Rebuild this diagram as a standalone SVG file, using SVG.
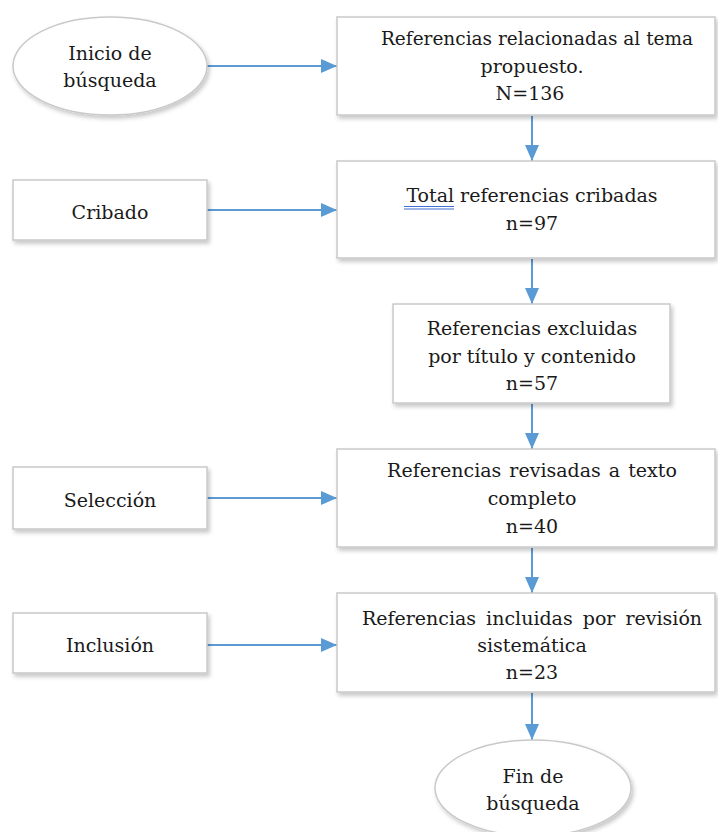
<svg xmlns="http://www.w3.org/2000/svg" width="718" height="832" viewBox="0 0 718 832">
  <defs>
    <style>
      .shape { fill: #ffffff; stroke: #c9c9c9; stroke-width: 1.5; filter: url(#shadow); }
      .label { font-family: "DejaVu Serif", "Liberation Serif", serif; font-size: 19px; fill: #1a1a1a; text-anchor: middle; }
      .conn { stroke: #5b9bd5; stroke-width: 2; fill: none; marker-end: url(#arrow); }
      .squiggle { stroke: #3f6fd0; stroke-width: 1.2; }
    </style>
    <filter id="shadow" x="-10%" y="-10%" width="125%" height="130%">
      <feDropShadow dx="2" dy="3" stdDeviation="2" flood-color="#000000" flood-opacity="0.22"/>
    </filter>
    <marker id="arrow" viewBox="0 0 16 14" refX="16" refY="7" markerWidth="16" markerHeight="14" markerUnits="userSpaceOnUse" orient="auto">
      <path d="M0,0 L16,7 L0,14 z" fill="#5b9bd5"/>
    </marker>
  </defs>
  <rect x="0" y="0" width="718" height="832" fill="#ffffff"/>

  <g id="connectors">
    <line class="conn" x1="207" y1="66" x2="337" y2="66"/>
    <line class="conn" x1="207" y1="210" x2="337" y2="210"/>
    <line class="conn" x1="207" y1="498" x2="337" y2="498"/>
    <line class="conn" x1="207" y1="645" x2="337" y2="645"/>
    <line class="conn" x1="532" y1="116" x2="532" y2="161"/>
    <line class="conn" x1="532" y1="259" x2="532" y2="304"/>
    <line class="conn" x1="532" y1="404" x2="532" y2="449"/>
    <line class="conn" x1="532" y1="548" x2="532" y2="593"/>
    <line class="conn" x1="532" y1="693" x2="532" y2="740"/>
  </g>

  <g id="inicio">
    <ellipse class="shape" cx="110" cy="66" rx="97" ry="49"/>
    <text class="label" x="110" y="60">Inicio de</text>
    <text class="label" x="110" y="87">búsqueda</text>
  </g>

  <g id="referencias-relacionadas">
    <rect class="shape" x="337" y="17" width="378" height="98"/>
    <text class="label" x="537" y="45" style="font-size:18.5px">Referencias relacionadas al tema</text>
    <text class="label" x="532" y="73">propuesto.</text>
    <text class="label" x="530" y="100">N=136</text>
  </g>

  <g id="cribado">
    <rect class="shape" x="13" y="180" width="194" height="60"/>
    <text class="label" x="110" y="219">Cribado</text>
  </g>

  <g id="total-cribadas">
    <rect class="shape" x="337" y="161" width="378" height="97"/>
    <text class="label" x="532" y="202">Total referencias cribadas</text>
    <line class="squiggle" x1="404" y1="206.5" x2="454" y2="206.5"/>
    <line class="squiggle" x1="404" y1="209" x2="454" y2="209"/>
    <text class="label" x="532" y="230">n=97</text>
  </g>

  <g id="excluidas">
    <rect class="shape" x="393" y="304" width="277" height="99"/>
    <text class="label" x="532" y="335">Referencias excluidas</text>
    <text class="label" x="532" y="363">por título y contenido</text>
    <text class="label" x="532" y="390">n=57</text>
  </g>

  <g id="seleccion">
    <rect class="shape" x="13" y="467" width="194" height="62"/>
    <text class="label" x="110" y="507">Selección</text>
  </g>

  <g id="revisadas">
    <rect class="shape" x="337" y="449" width="378" height="98"/>
    <text class="label" x="532" y="477" style="word-spacing:2px">Referencias revisadas a texto</text>
    <text class="label" x="532" y="505">completo</text>
    <text class="label" x="532" y="533">n=40</text>
  </g>

  <g id="inclusion">
    <rect class="shape" x="13" y="613" width="194" height="60"/>
    <text class="label" x="110" y="652">Inclusión</text>
  </g>

  <g id="incluidas">
    <rect class="shape" x="337" y="593" width="378" height="99"/>
    <text class="label" x="532" y="625" style="word-spacing:4px">Referencias incluidas por revisión</text>
    <text class="label" x="532" y="652">sistemática</text>
    <text class="label" x="532" y="679">n=23</text>
  </g>

  <g id="fin">
    <ellipse class="shape" cx="533" cy="788" rx="98" ry="48"/>
    <text class="label" x="533" y="783">Fin de</text>
    <text class="label" x="533" y="810">búsqueda</text>
  </g>
</svg>
